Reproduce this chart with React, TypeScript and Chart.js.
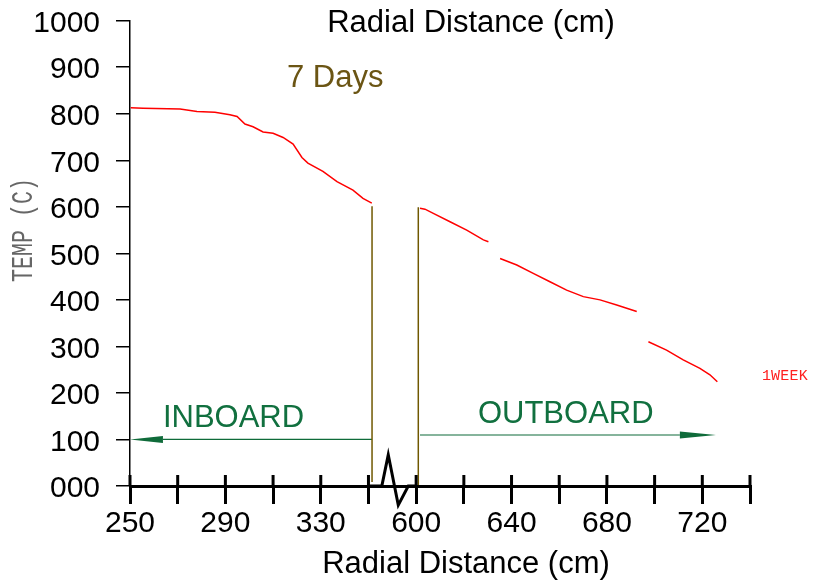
import React, { useEffect, useRef } from "react";
import { Chart, registerables } from "chart.js";

Chart.register(...registerables);

// ---- Data (real radial distance in cm, temperature in C) ----
const INNER_X = [250.3, 255.5, 271, 278.1, 285.6, 291.9, 294.9, 298.2, 301.6, 305.8, 310, 314.2, 318.4, 322.1, 324.6, 330.9, 336.8, 343.5, 347.7, 351.4];
const INNER_T = [813, 812, 810, 805, 803, 798, 794, 778, 772, 761, 758, 749, 735, 706, 694, 676, 654, 636, 618, 608];
const OUTER1_X = [601.6, 603.7, 607.2, 614.2, 621.2, 628.2, 630.3];
const OUTER1_T = [597, 595, 586, 568, 550, 529, 525];
const OUTER2_X = [635.2, 642.2, 649.1, 656.1, 663.1, 670.1, 677.1, 684.1, 692.5];
const OUTER2_T = [489, 475, 457, 439, 421, 407, 400, 389, 375];
const OUTER3_X = [697.4, 705, 712, 719, 723.2, 726.3];
const OUTER3_T = [310, 292, 271, 253, 239, 224];

// break marker lines (vertical) : x, top, bottom
const WALL_LEFT = { x: 351.5, top: 601, bottom: 8.6 };
const WALL_RIGHT = { x: 600.9, top: 599, bottom: 2 };

// arrows
const INBOARD_ARROW = { from: 351.5, to: 250, y: 100, head: 263.8 };
const OUTBOARD_ARROW = { from: 601.6, to: 725.7, y: 109.6, head: 710.6 };

// axis break zigzag (virtual axis units) and heights
const ZIG_V = [350, 355.6, 358.3, 362.5, 366.7, 370];
const ZIG_T = [0, 0, 67, -41, 0, 0];

const GAP = 230; // cm removed by the axis break
const X_TICKS_V = [250, 270, 290, 310, 330, 350, 370, 390, 410, 430, 450, 470, 490, 510];
const X_LABEL_V = [250, 290, 330, 370, 410, 450, 490];
const Y_TICKS = [0, 100, 200, 300, 400, 500, 600, 700, 800, 900, 1000];

const toV = (x: number) => (x <= 400 ? x : x - GAP);
const toReal = (v: number) => (v <= 360 ? v : v + GAP);

const RED = "#ff0000";
const BROWN = "#6f5800";
const GREEN = "#0f6b3a";
const FONT = "'Liberation Sans', Arial, sans-serif";

function seg(xs: number[], ts: number[]) {
  return xs.map((x, i) => ({ x: toV(x), y: ts[i] }));
}

export default function App() {
  const ref = useRef<HTMLCanvasElement | null>(null);

  useEffect(() => {
    if (!ref.current) return;

    const redData: any[] = [
      ...seg(INNER_X, INNER_T),
      { x: 360, y: null },
      ...seg(OUTER1_X, OUTER1_T),
      { x: toV(632.5), y: null },
      ...seg(OUTER2_X, OUTER2_T),
      { x: toV(695), y: null },
      ...seg(OUTER3_X, OUTER3_T),
    ];

    const annot = {
      id: "annot",
      afterDraw(chart: any) {
        const { ctx, chartArea } = chart;
        const xs = chart.scales.x;
        const ys = chart.scales.y;
        ctx.save();
        // upward portions of x ticks
        ctx.strokeStyle = "#000";
        ctx.lineWidth = 3;
        xs.ticks.forEach((t: any) => {
          const px = xs.getPixelForValue(t.value);
          ctx.beginPath();
          ctx.moveTo(px, chartArea.bottom);
          ctx.lineTo(px, chartArea.bottom - 11);
          ctx.stroke();
        });

        // arrowheads
        ctx.fillStyle = GREEN;
        const head = (tipV: number, baseV: number, yv: number) => {
          const tx = xs.getPixelForValue(tipV);
          const bx = xs.getPixelForValue(baseV);
          const py = ys.getPixelForValue(yv);
          ctx.beginPath();
          ctx.moveTo(tx, py);
          ctx.lineTo(bx, py - 3.5);
          ctx.lineTo(bx, py + 3.5);
          ctx.closePath();
          ctx.fill();
        };
        head(toV(INBOARD_ARROW.to), toV(INBOARD_ARROW.head), INBOARD_ARROW.y);
        head(toV(OUTBOARD_ARROW.to), toV(OUTBOARD_ARROW.head), OUTBOARD_ARROW.y);

        const text = (s: string, v: number, yv: number, color: string, font: string) => {
          ctx.fillStyle = color;
          ctx.font = font;
          ctx.textAlign = "left";
          ctx.textBaseline = "alphabetic";
          ctx.fillText(s, xs.getPixelForValue(v), ys.getPixelForValue(yv));
        };
        text("7 Days", toV(315.8), 857, "#6b5514", `31px ${FONT}`);
        text("INBOARD", toV(263.8), 127.4, "#11703f", `31px ${FONT}`);
        text("OUTBOARD", toV(625.9), 134.7, "#11703f", `31px ${FONT}`);
        ctx.save();
        (ctx as any).letterSpacing = "0.2px";
        text("1WEEK", toV(745), 227.8, "#ff2020", `15px 'Liberation Mono', 'DejaVu Sans Mono', monospace`);
        ctx.restore();

        // titles
        ctx.fillStyle = "#000";
        ctx.font = `31px ${FONT}`;
        ctx.textAlign = "center";
        ctx.textBaseline = "alphabetic";
        ctx.fillText("Radial Distance (cm)", 471, 32);
        ctx.fillText("Radial Distance (cm)", 466, 573);

        // y title
        ctx.save();
        ctx.translate(24, 230);
        ctx.rotate(-Math.PI / 2);
        ctx.fillStyle = "#666";
        ctx.font = `24px 'Liberation Mono', monospace`;
        ctx.textAlign = "center";
        ctx.textBaseline = "middle";
        const w = ctx.measureText("TEMP (C)").width;
        ctx.scale(104 / w, 1.25);
        ctx.fillText("TEMP (C)", 0, 0);
        ctx.restore();

        ctx.restore();
      },
    };

    const chart = new Chart(ref.current, {
      type: "line",
      data: {
        datasets: [
          {
            data: redData,
            borderColor: RED,
            borderWidth: 1.5,
            pointRadius: 0,
            spanGaps: false,
          },
          {
            data: [
              { x: toV(WALL_LEFT.x), y: WALL_LEFT.top },
              { x: toV(WALL_LEFT.x), y: WALL_LEFT.bottom },
            ],
            borderColor: BROWN,
            borderWidth: 1.5,
            pointRadius: 0,
          },
          {
            data: [
              { x: toV(WALL_RIGHT.x), y: WALL_RIGHT.top },
              { x: toV(WALL_RIGHT.x), y: WALL_RIGHT.bottom },
            ],
            borderColor: BROWN,
            borderWidth: 1.5,
            pointRadius: 0,
          },
          {
            data: [
              { x: toV(INBOARD_ARROW.from), y: INBOARD_ARROW.y },
              { x: toV(INBOARD_ARROW.head), y: INBOARD_ARROW.y },
            ],
            borderColor: GREEN,
            borderWidth: 1.2,
            pointRadius: 0,
          },
          {
            data: [
              { x: toV(OUTBOARD_ARROW.from), y: OUTBOARD_ARROW.y },
              { x: toV(OUTBOARD_ARROW.head), y: OUTBOARD_ARROW.y },
            ],
            borderColor: GREEN,
            borderWidth: 1.2,
            pointRadius: 0,
          },
          {
            data: ZIG_V.map((v, i) => ({ x: v, y: ZIG_T[i] })),
            borderColor: "#000",
            borderWidth: 3,
            pointRadius: 0,
            clip: false as any,
          },
        ],
      },
      options: {
        responsive: false,
        animation: false,
        layout: { padding: { top: 20.7, right: 70, left: 0, bottom: 0 } },
        plugins: { legend: { display: false }, tooltip: { enabled: false } },
        scales: {
          x: {
            type: "linear",
            min: 250,
            max: 510,
            afterBuildTicks: (s: any) => {
              s.ticks = X_TICKS_V.map((v) => ({ value: v }));
            },
            afterFit: (s: any) => {
              s.height = 94;
              s.paddingLeft = 0;
              s.paddingRight = 0;
            },
            border: { display: true, color: "#000", width: 3 },
            grid: {
              display: true,
              drawOnChartArea: false,
              drawTicks: true,
              tickLength: 18,
              tickColor: "#000",
              lineWidth: 3,
            },
            ticks: {
              autoSkip: false,
              maxRotation: 0,
              padding: 2,
              color: "#000",
              font: { family: FONT, size: 30 },
              callback: (v: any) => (X_LABEL_V.includes(Number(v)) ? String(toReal(Number(v))) : ""),
            },
          },
          y: {
            type: "linear",
            min: 0,
            max: 1000,
            afterBuildTicks: (s: any) => {
              s.ticks = Y_TICKS.map((v) => ({ value: v }));
            },
            afterFit: (s: any) => {
              s.width = 130;
              s.paddingTop = 0;
              s.paddingBottom = 0;
            },
            border: { display: true, color: "#000", width: 1.5 },
            grid: {
              display: true,
              drawOnChartArea: false,
              drawTicks: true,
              tickLength: 14,
              tickColor: "#000",
              lineWidth: 1.5,
            },
            ticks: {
              padding: 16,
              labelOffset: 3,
              color: "#000",
              font: { family: FONT, size: 30 },
              callback: (v: any) => (Number(v) === 0 ? "000" : String(v)),
            },
          },
        },
      },
      plugins: [annot],
    } as any);

    return () => chart.destroy();
  }, []);

  return (
    <div style={{ position: "fixed", left: 0, top: 0, width: 820, height: 580, background: "#fff" }}>
      <canvas ref={ref} width={820} height={580} />
    </div>
  );
}
